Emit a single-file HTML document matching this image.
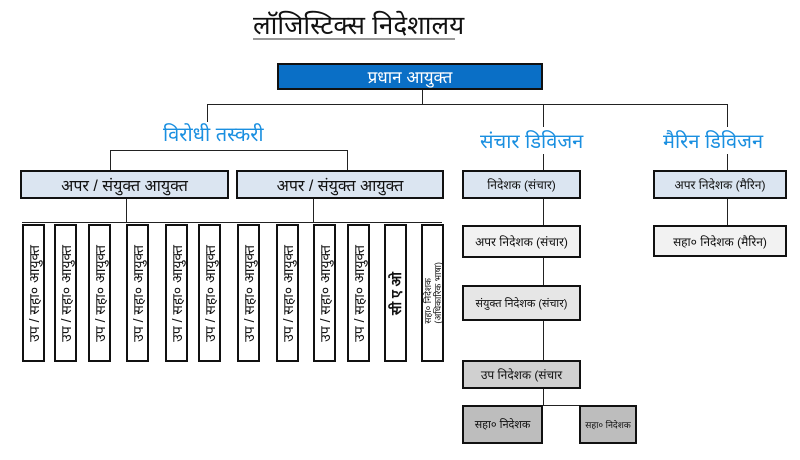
<!DOCTYPE html>
<html><head><meta charset="utf-8"><style>
body{margin:0;width:800px;height:460px;background:#fff;position:relative;overflow:hidden;font-family:"Liberation Sans","Noto Sans CJK SC","WenQuanYi Zen Hei",sans-serif;}
.a{position:absolute;box-sizing:border-box;}
.b{border:2px solid #111;display:flex;align-items:center;justify-content:center;white-space:nowrap;color:#111;}
.h{position:absolute;background:#222;height:1px;}
.v{position:absolute;background:#222;width:1px;}
.t{position:absolute;color:#1a8fe0;font-size:20px;white-space:nowrap;}
.vt{position:absolute;box-sizing:border-box;border:2px solid #111;background:#fff;width:23px;top:224px;height:138px;display:flex;align-items:center;justify-content:center;}
.vt span{writing-mode:vertical-rl;transform:rotate(180deg);font-size:14px;white-space:nowrap;color:#111;}
</style></head><body>
<div class="a" style="left:253px;top:6px;font-size:26px;color:#111;white-space:nowrap;">लॉजिस्टिक्स निदेशालय</div>
<div class="h" style="left:253px;top:38px;width:202px;height:2px;background:#999"></div>

<div class="a b" style="left:277px;top:63px;width:266px;height:27px;background:#0a6fc6;color:#fff;font-size:17px;">प्रधान आयुक्त</div>
<div class="v" style="left:422px;top:90px;height:14px"></div>
<div class="h" style="left:207px;top:104px;width:521px"></div>
<div class="v" style="left:207px;top:104px;height:18px"></div>
<div class="v" style="left:543px;top:104px;height:68px"></div>
<div class="v" style="left:727px;top:104px;height:66px"></div>
<div class="t" style="left:163px;top:120px;">विरोधी तस्करी</div>
<div class="t" style="left:480px;top:127px;background:#fff;">संचार डिविजन</div>
<div class="t" style="left:663px;top:127px;background:#fff;">मैरिन डिविजन</div>

<div class="h" style="left:110px;top:150px;width:238px"></div>
<div class="v" style="left:110px;top:150px;height:20px"></div>
<div class="v" style="left:347px;top:150px;height:20px"></div>
<div class="a b" style="left:20px;top:170px;width:209px;height:29px;background:#dbe5f1;font-size:16px;">अपर / संयुक्त आयुक्त</div>
<div class="a b" style="left:236px;top:170px;width:208px;height:29px;background:#dbe5f1;font-size:16px;">अपर / संयुक्त आयुक्त</div>
<div class="v" style="left:126px;top:199px;height:23px"></div>
<div class="v" style="left:313px;top:199px;height:23px"></div>
<div class="h" style="left:22px;top:222px;width:420px"></div>

<div class="vt" style="left:22px"><span>उप / सहा० आयुक्त</span></div>
<div class="vt" style="left:54px"><span>उप / सहा० आयुक्त</span></div>
<div class="vt" style="left:88px"><span>उप / सहा० आयुक्त</span></div>
<div class="vt" style="left:126px"><span>उप / सहा० आयुक्त</span></div>
<div class="vt" style="left:165px"><span>उप / सहा० आयुक्त</span></div>
<div class="vt" style="left:198px"><span>उप / सहा० आयुक्त</span></div>
<div class="vt" style="left:237px"><span>उप / सहा० आयुक्त</span></div>
<div class="vt" style="left:276px"><span>उप / सहा० आयुक्त</span></div>
<div class="vt" style="left:313px"><span>उप / सहा० आयुक्त</span></div>
<div class="vt" style="left:347px"><span>उप / सहा० आयुक्त</span></div>
<div class="vt" style="left:384px"><span style="font-size:14px;font-weight:bold">सी ए ओ</span></div>
<div class="vt" style="left:421px"><span style="font-size:9px;line-height:10px">सहा० निदेशक<br>(अधिकारिक भाषा)</span></div>

<div class="a b" style="left:462px;top:170px;width:119px;height:29px;background:#dbe5f1;font-size:12px;">निदेशक (संचार)</div>
<div class="v" style="left:543px;top:199px;height:26px"></div>
<div class="a b" style="left:462px;top:225px;width:119px;height:33px;background:#f2f2f2;font-size:12px;">अपर निदेशक (संचार)</div>
<div class="v" style="left:543px;top:258px;height:27px"></div>
<div class="a b" style="left:462px;top:285px;width:119px;height:36px;background:#e6e6e6;font-size:11px;">संयुक्त निदेशक (संचार)</div>
<div class="v" style="left:543px;top:321px;height:39px"></div>
<div class="a b" style="left:462px;top:360px;width:119px;height:29px;background:#d0d0d0;font-size:12px;">उप निदेशक (संचार</div>
<div class="v" style="left:543px;top:389px;height:16px"></div>
<div class="h" style="left:543px;top:405px;width:37px"></div>
<div class="a b" style="left:462px;top:405px;width:81px;height:39px;background:#bdbdbd;font-size:11px;">सहा० निदेशक</div>
<div class="a b" style="left:579px;top:405px;width:58px;height:39px;background:#bdbdbd;font-size:9px;">सहा० निदेशक</div>

<div class="a b" style="left:653px;top:170px;width:134px;height:29px;background:#dbe5f1;font-size:12px;">अपर निदेशक (मैरिन)</div>
<div class="v" style="left:727px;top:199px;height:26px"></div>
<div class="a b" style="left:653px;top:225px;width:134px;height:32px;background:#f2f2f2;font-size:12px;">सहा० निदेशक (मैरिन)</div>
</body></html>
